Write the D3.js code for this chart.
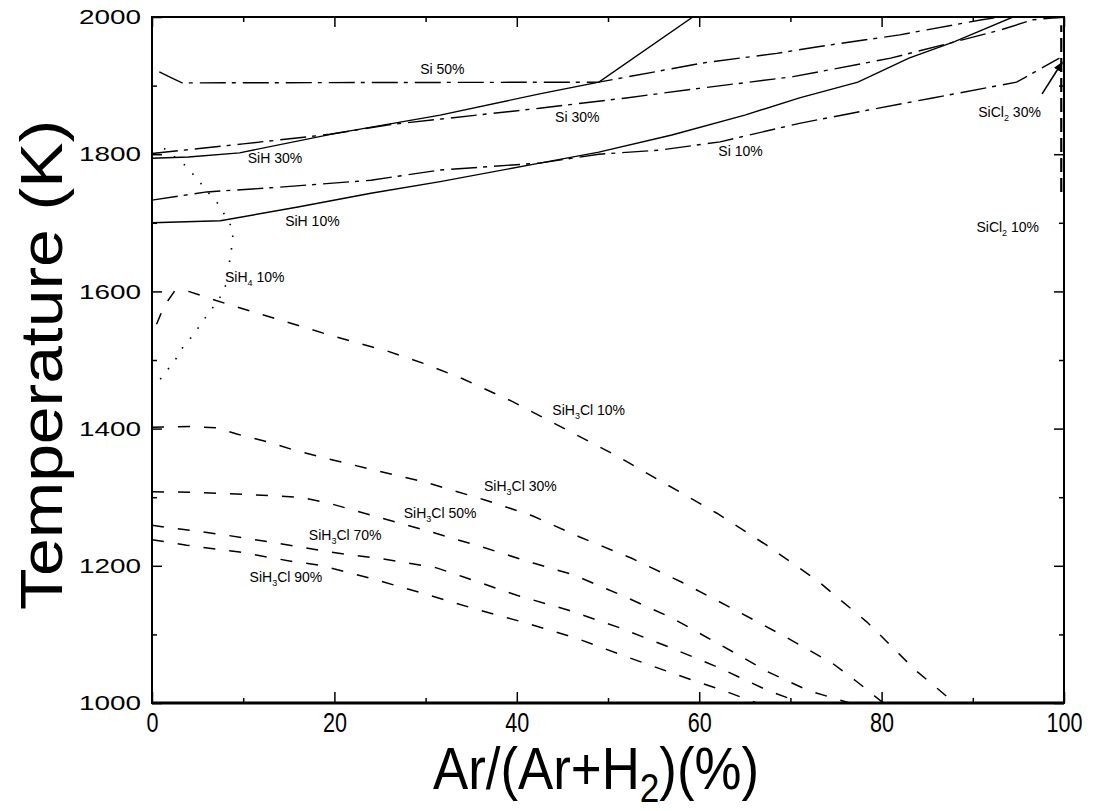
<!DOCTYPE html>
<html>
<head>
<meta charset="utf-8">
<script src="https://cdn.jsdelivr.net/npm/d3@7"></script>
<style>
  body { margin: 0; background: #fff; }
  svg { display: block; }
  text { font-family: "Liberation Sans", Arial, Helvetica, sans-serif; fill: #000; }
</style>
</head>
<body>
<div id="chart"></div>
<script>
const width = 1101;
const height = 811;

// axis ticks
const xTicks = [0, 20, 40, 60, 80, 100];
const xMinorTicks = [10, 30, 50, 70, 90];
const yTicks = [1000, 1200, 1400, 1600, 1800, 2000];
const yMinorTicks = [1100, 1300, 1500, 1700, 1900];

// solid lines (SiH)
const siH30 = [[0, 1794], [4, 1796], [9.6, 1802], [20, 1830], [31.6, 1857], [42.5, 1888], [49, 1905], [59.3, 2000]];
const siH10 = [[0, 1700], [7.5, 1703], [16, 1723], [24, 1743], [31.6, 1760], [42.5, 1787], [49, 1803], [57, 1828],
  [65, 1857], [71, 1882], [77.4, 1905], [83, 1940], [88, 1964], [91, 1981], [94.4, 2000]];

// dash-dot lines (Si)
const si50 = [[0.8, 1920], [2.2, 1911], [3.3, 1904], [49, 1905], [60.4, 1933], [68.5, 1947], [73.2, 1957],
  [82, 1974], [91, 1996], [93, 2000]];
const si30 = [[0, 1801], [10, 1815], [19.5, 1829], [26, 1843], [42.5, 1867], [52, 1882], [60, 1896], [70.3, 1913],
  [81, 1940], [87.5, 1962], [93, 1981], [96.6, 1996], [100, 2000]];
const si10 = [[0, 1733], [6, 1745], [13, 1751], [24, 1762], [31.6, 1777], [42.5, 1787], [49, 1800], [55.7, 1806],
  [62.3, 1818], [71, 1845], [78.4, 1864], [85.6, 1882], [94.8, 1905], [99.5, 1940]];

// dotted line (SiH4)
const siH4_10 = [[0.9, 1472], [2.5, 1499], [3.4, 1519], [4.5, 1536], [5.6, 1557], [6.7, 1577], [7.8, 1598],
  [8.2, 1614], [8.3, 1631], [8.6, 1650], [8.8, 1671], [8.9, 1690], [7.3, 1727], [6.1, 1745], [4.9, 1765],
  [3.6, 1784], [0.9, 1813]];

// dashed lines (SiH3Cl)
const siH3Cl10 = [[0.5, 1552], [1.3, 1578], [2.5, 1601], [4, 1600], [8.6, 1580], [14.4, 1557], [19.8, 1535],
  [25.8, 1513], [30, 1494], [34, 1473], [39.6, 1439], [45.5, 1398], [51, 1360], [56.5, 1318], [61.9, 1277],
  [67.4, 1230], [72.9, 1179], [78.4, 1118], [83.7, 1048], [88, 1000]];
const siH3Cl30 = [[0, 1402], [4.2, 1403], [7.1, 1401], [9.3, 1392], [12.6, 1381], [15.5, 1369], [18.4, 1359],
  [24.2, 1340], [30.2, 1321], [36.5, 1296], [41.7, 1273], [46.9, 1242], [52.6, 1211], [58.1, 1176],
  [63.6, 1138], [69.1, 1099], [74.6, 1058], [77.3, 1031], [80.2, 1000]];
const siH3Cl50 = [[0, 1308], [5, 1307], [10.4, 1304], [16.2, 1300], [19.2, 1292], [24.8, 1271], [30.7, 1249],
  [36.3, 1227], [41.8, 1204], [46.2, 1187], [51.5, 1157], [57, 1124], [62.3, 1085], [67.6, 1045],
  [72, 1018], [76.5, 1000]];
const siH3Cl70 = [[0, 1259], [2.3, 1255], [8, 1245], [13.7, 1233], [19.5, 1220], [25.3, 1210], [31.2, 1197],
  [34.1, 1184], [40, 1157], [45.5, 1136], [51, 1111], [56.6, 1082], [61.9, 1053], [67.4, 1019], [71.2, 1000]];
const siH3Cl90 = [[0, 1238], [3.8, 1230], [9.6, 1220], [15.5, 1206], [18.4, 1201], [23.9, 1182], [29.7, 1160],
  [35.2, 1138], [40.9, 1117], [46.4, 1095], [52.1, 1067], [57.6, 1041], [63.1, 1016], [66.3, 1000]];

// SiCl2 contour hugging the right edge
const siCl2 = [[99.7, 1745], [99.7, 1988]];
const arrowFrom = [97.6, 1888];
const arrowTo = [99.8, 1934];

// curve labels: [species, subscript, rest, x, T]
const labels = [
  ["Si 50%", "", "", 29.4, 1917],
  ["Si 30%", "", "", 44.2, 1847],
  ["Si 10%", "", "", 62.1, 1797],
  ["SiH 30%", "", "", 10.5, 1787],
  ["SiH 10%", "", "", 14.6, 1695],
  ["SiH", "4", " 10%", 8.0, 1614],
  ["SiCl", "2", " 30%", 90.6, 1854],
  ["SiCl", "2", " 10%", 90.4, 1687],
  ["SiH", "3", "Cl 10%", 43.9, 1420],
  ["SiH", "3", "Cl 30%", 36.4, 1309],
  ["SiH", "3", "Cl 50%", 27.6, 1270],
  ["SiH", "3", "Cl 70%", 17.2, 1238],
  ["SiH", "3", "Cl 90%", 10.7, 1176]
];

const svg = d3.select("#chart").append("svg")
  .attr("width", width)
  .attr("height", height);

svg.append("rect").attr("width", width).attr("height", height).attr("fill", "#fff");

const x = d3.scaleLinear().domain([0, 100]).range([152, 1064]);
const y = d3.scaleLinear().domain([1000, 2000]).range([703, 17]);

svg.append("defs").append("clipPath").attr("id", "plot-clip")
  .append("rect")
  .attr("x", x(0)).attr("y", y(2000))
  .attr("width", x(100) - x(0)).attr("height", y(1000) - y(2000));

const marker = svg.select("defs").append("marker")
  .attr("id", "arrow")
  .attr("viewBox", "0 0 10 10")
  .attr("refX", 9).attr("refY", 5)
  .attr("markerWidth", 10).attr("markerHeight", 10)
  .attr("markerUnits", "userSpaceOnUse")
  .attr("orient", "auto");
marker.append("path").attr("d", "M0,1 L10,5 L0,9 Z").attr("fill", "#000");

const line = d3.line().x(d => x(d[0])).y(d => y(d[1]));

const plot = svg.append("g").attr("clip-path", "url(#plot-clip)");

const series = [
  { data: siH30, dash: null, w: 1.4 },
  { data: siH10, dash: null, w: 1.4 },
  { data: si50, dash: "26,6,4,7", w: 1.4 },
  { data: si30, dash: "26,6,4,7", w: 1.4 },
  { data: si10, dash: "26,6,4,7", w: 1.4 },
  { data: siH4_10, dash: "1.6,11", w: 1.6 },
  { data: siH3Cl10, dash: "12,14", w: 1.5 },
  { data: siH3Cl30, dash: "12,14", w: 1.5 },
  { data: siH3Cl50, dash: "12,14", w: 1.5 },
  { data: siH3Cl70, dash: "12,14", w: 1.5 },
  { data: siH3Cl90, dash: "12,14", w: 1.5 },
  { data: siCl2, dash: "14,6", w: 2.2 }
];

series.forEach(s => {
  plot.append("path")
    .datum(s.data)
    .attr("d", line)
    .attr("fill", "none")
    .attr("stroke", "#000")
    .attr("stroke-width", s.w)
    .attr("stroke-dasharray", s.dash);
});

// arrow pointing at SiCl2 30%
svg.append("line")
  .attr("x1", x(arrowFrom[0])).attr("y1", y(arrowFrom[1]))
  .attr("x2", x(arrowTo[0])).attr("y2", y(arrowTo[1]))
  .attr("stroke", "#000")
  .attr("stroke-width", 1.6)
  .attr("marker-end", "url(#arrow)");

// curve labels
labels.forEach(l => {
  const t = svg.append("text")
    .attr("x", x(l[3]))
    .attr("y", y(l[4]))
    .style("font-size", "14px");
  t.append("tspan").text(l[0]);
  if (l[1]) {
    t.append("tspan").attr("dy", 4).style("font-size", "9px").text(l[1]);
    t.append("tspan").attr("dy", -4).text(l[2]);
  }
});

// frame
svg.append("rect")
  .attr("x", x(0)).attr("y", y(2000))
  .attr("width", x(100) - x(0)).attr("height", y(1000) - y(2000))
  .attr("fill", "none")
  .attr("stroke", "#000")
  .attr("stroke-width", 2);
svg.append("line")
  .attr("x1", x(0)).attr("x2", x(100))
  .attr("y1", y(1000)).attr("y2", y(1000))
  .attr("stroke", "#000").attr("stroke-width", 3);

// axes (ticks point inward)
function styleAxis(g) {
  g.select(".domain").remove();
  g.selectAll(".tick line").attr("stroke", "#000").attr("stroke-width", 1.5);
}

const xAxis = svg.append("g")
  .attr("transform", `translate(0,${y(1000)})`)
  .call(d3.axisBottom(x).tickValues(xTicks).tickSize(-11).tickPadding(9).tickFormat(d3.format("d")))
  .call(styleAxis);
xAxis.selectAll("text")
  .style("font-size", "28px")
  .attr("textLength", d => String(d).length * 12)
  .attr("lengthAdjust", "spacingAndGlyphs");

svg.append("g")
  .attr("transform", `translate(0,${y(1000)})`)
  .call(d3.axisBottom(x).tickValues(xMinorTicks).tickSize(-5).tickFormat(""))
  .call(styleAxis);

svg.append("g")
  .attr("transform", `translate(0,${y(2000)})`)
  .call(d3.axisTop(x).tickValues(xTicks).tickSize(-10).tickFormat(""))
  .call(styleAxis);
svg.append("g")
  .attr("transform", `translate(0,${y(2000)})`)
  .call(d3.axisTop(x).tickValues(xMinorTicks).tickSize(-5).tickFormat(""))
  .call(styleAxis);

const yAxis = svg.append("g")
  .attr("transform", `translate(${x(0)},0)`)
  .call(d3.axisLeft(y).tickValues(yTicks).tickSize(-10).tickPadding(11).tickFormat(d3.format("d")))
  .call(styleAxis);
yAxis.selectAll("text")
  .style("font-size", "21px")
  .attr("textLength", 62)
  .attr("lengthAdjust", "spacingAndGlyphs");

svg.append("g")
  .attr("transform", `translate(${x(0)},0)`)
  .call(d3.axisLeft(y).tickValues(yMinorTicks).tickSize(-5).tickFormat(""))
  .call(styleAxis);

svg.append("g")
  .attr("transform", `translate(${x(100)},0)`)
  .call(d3.axisRight(y).tickValues(yTicks).tickSize(-10).tickFormat(""))
  .call(styleAxis);
svg.append("g")
  .attr("transform", `translate(${x(100)},0)`)
  .call(d3.axisRight(y).tickValues(yMinorTicks).tickSize(-5).tickFormat(""))
  .call(styleAxis);

// axis titles
const xTitle = svg.append("text")
  .attr("transform", "translate(596,789) scale(0.88,1)")
  .attr("text-anchor", "middle")
  .style("font-size", "60px");
xTitle.append("tspan").text("Ar/(Ar+H");
xTitle.append("tspan").attr("dy", 13).style("font-size", "40px").text("2");
xTitle.append("tspan").attr("dy", -13).text(")(%)");

svg.append("text")
  .attr("transform", "translate(62,365) rotate(-90)")
  .attr("text-anchor", "middle")
  .style("font-size", "60px")
  .attr("textLength", 490)
  .attr("lengthAdjust", "spacingAndGlyphs")
  .text("Temperature (K)");
</script>
</body>
</html>
